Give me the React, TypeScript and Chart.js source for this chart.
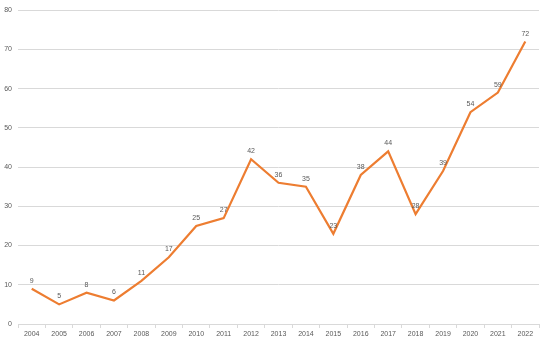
import React, { useEffect, useRef } from "react";
import { Chart, registerables } from "chart.js";

Chart.register(...registerables);

const years = ["2004","2005","2006","2007","2008","2009","2010","2011","2012","2013","2014","2015","2016","2017","2018","2019","2020","2021","2022"];
const counts = [9,5,8,6,11,17,25,27,42,36,35,23,38,44,28,39,54,59,72];

const labelPlugin = {
  id: "pointLabels",
  afterDatasetsDraw(chart: any) {
    const ctx = chart.ctx;
    const meta = chart.getDatasetMeta(0);
    ctx.save();
    ctx.font = "7px 'Liberation Sans', sans-serif";
    ctx.fillStyle = "#595959";
    ctx.textAlign = "center";
    ctx.textBaseline = "middle";
    meta.data.forEach((pt: any, i: number) => {
      ctx.fillText(String(counts[i]), pt.x, pt.y - 8);
    });
    ctx.restore();
  },
};

export default function App() {
  const ref = useRef<HTMLCanvasElement>(null);
  useEffect(() => {
    const chart = new Chart(ref.current!, {
      type: "line",
      data: {
        labels: years,
        datasets: [
          {
            data: counts,
            borderColor: "#ED7D31",
            borderWidth: 2.2,
            pointRadius: 0,
            tension: 0,
            fill: false,
          },
        ],
      },
      options: {
        animation: false,
        responsive: false,
        maintainAspectRatio: false,
        layout: { padding: { left: 0, right: 11, top: 10, bottom: 0 } },
        plugins: { legend: { display: false }, tooltip: { enabled: false } },
        scales: {
          x: {
            offset: true,
            grid: {
              display: true,
              offset: true,
              drawOnChartArea: false,
              drawTicks: true,
              tickLength: 4,
              color: "#d9d9d9",
            },
            border: { display: true, color: "#d9d9d9" },
            ticks: {
              color: "#595959",
              font: { size: 7, family: "'Liberation Sans', sans-serif" },
              padding: 2,
              maxRotation: 0,
              autoSkip: false,
            },
            afterFit: (s: any) => { s.height = 18; },
          },
          y: {
            min: 0,
            max: 80,
            ticks: {
              stepSize: 10,
              color: "#595959",
              font: { size: 7, family: "'Liberation Sans', sans-serif" },
              padding: 6,
            },
            grid: { color: "#d9d9d9", drawTicks: false },
            border: { display: false },
            afterFit: (s: any) => { s.width = 18; },
          },
        },
      },
      plugins: [labelPlugin],
    });
    return () => chart.destroy();
  }, []);
  return (
    <div style={{ position: "fixed", left: 0, top: 0, width: 550, height: 342, background: "#fff" }}>
      <canvas ref={ref} width={550} height={342} style={{ width: 550, height: 342 }} />
    </div>
  );
}
